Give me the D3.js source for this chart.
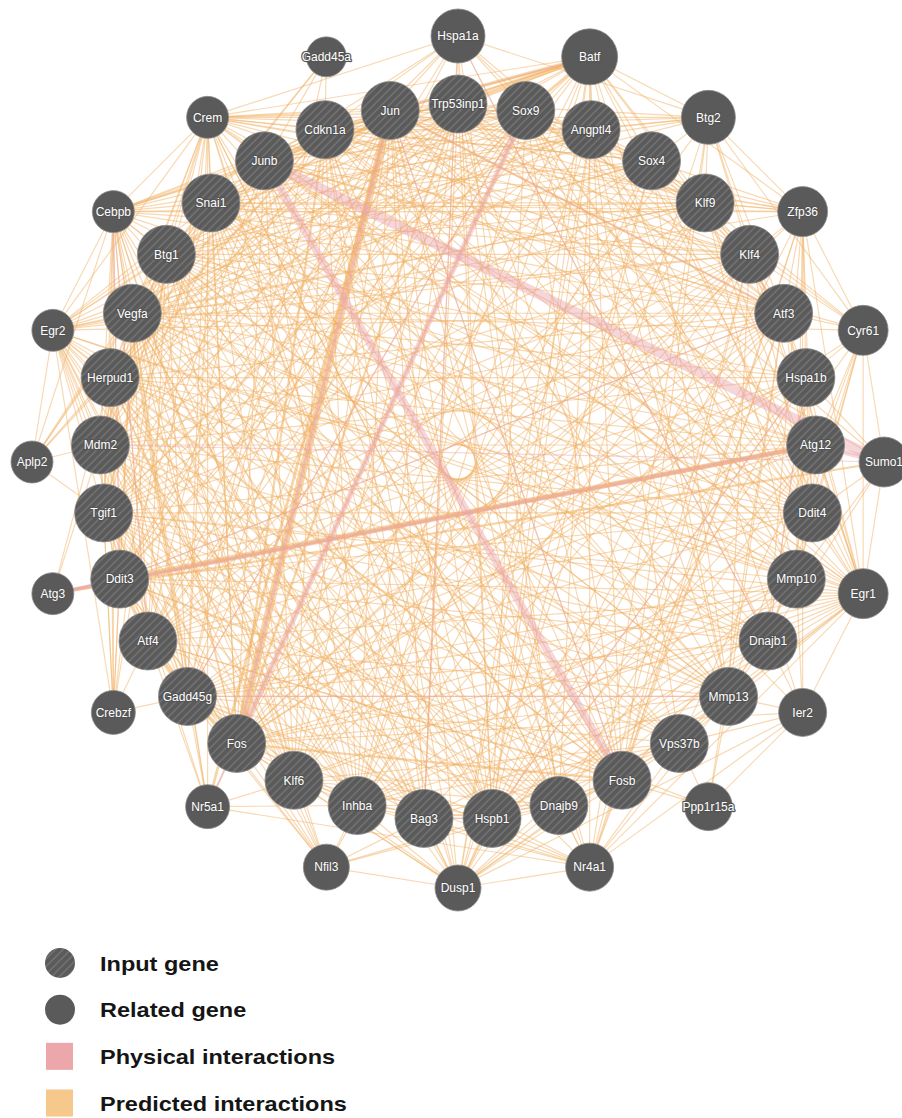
<!DOCTYPE html>
<html>
<head>
<meta charset="utf-8">
<script src="https://cdn.jsdelivr.net/npm/d3@7"></script>
<style>
  html, body { margin: 0; padding: 0; background: #fff; }
  svg { display: block; }
  .node-label { font-family: "Liberation Sans", Arial, sans-serif; font-size: 12px; fill: #fff;
    paint-order: stroke; stroke: #555; stroke-width: 2.4px; stroke-linejoin: round; }
  .legend-label { font-family: "Liberation Sans", Arial, sans-serif; font-size: 21px; font-weight: bold; fill: #151515; }
</style>
</head>
<body>
<svg id="chart" width="902" height="1118"></svg>
<script>
// Query (input) genes, clockwise from the top of the inner ring
const inputGenes = ["Trp53inp1","Sox9","Angptl4","Sox4","Klf9","Klf4","Atf3","Hspa1b","Atg12","Ddit4",
  "Mmp10","Dnajb1","Mmp13","Vps37b","Fosb","Dnajb9","Hspb1","Bag3","Inhba","Klf6","Fos","Gadd45g",
  "Atf4","Ddit3","Tgif1","Mdm2","Herpud1","Vegfa","Btg1","Snai1","Junb","Cdkn1a","Jun"];

// Related genes added by the network, clockwise from the top of the outer ring
const relatedGenes = ["Hspa1a","Batf","Btg2","Zfp36","Cyr61","Sumo1","Egr1","Ier2","Ppp1r15a","Nr4a1",
  "Dusp1","Nfil3","Nr5a1","Crebzf","Atg3","Aplp2","Egr2","Cebpb","Crem","Gadd45a"];
const relatedScores = [0.9,1.0,0.9,0.7,0.7,0.7,0.7,0.6,0.6,0.6,0.5,0.5,0.4,0.4,0.3,0.3,0.3,0.3,0.3,0.2];
const inputScore = 1.1;

// Predicted interactions, as adjacency lists
const predictedLinks = [
  "Jun: Fos Fosb Junb Atf3 Atf4 Ddit3 Klf6 Klf4 Klf9 Egr1 Egr2 Dusp1 Batf Hspa1a Cdkn1a Trp53inp1 Sox9 Mmp10 Mmp13 Vegfa Inhba Nr4a1 Crem Cebpb Gadd45g Snai1 Tgif1 Btg1 Sox4 Bag3 Hspb1 Dnajb9 Ddit4 Herpud1 Zfp36 Atg12 Nr5a1",
  "Fos: Fosb Junb Atf3 Atf4 Egr1 Egr2 Nr4a1 Dusp1 Ier2 Klf4 Klf6 Mmp13 Mmp10 Vegfa Cebpb Crem Btg2 Zfp36 Cyr61 Nr5a1 Batf Inhba Hspa1b Dnajb1 Sox9 Snai1 Gadd45g Ddit3 Tgif1 Klf9 Angptl4 Cdkn1a Trp53inp1",
  "Junb: Fosb Atf3 Klf4 Egr1 Batf Cebpb Crem Ddit3 Atf4 Dusp1 Zfp36 Btg2 Mmp13 Klf6 Inhba Snai1 Sox9 Cdkn1a Vegfa Hspb1 Ddit4 Herpud1 Ier2 Cyr61",
  "Fosb: Atf3 Egr1 Egr2 Nr4a1 Dusp1 Klf4 Klf6 Batf Cebpb Crem Mmp10 Btg2 Zfp36 Snai1 Sox9 Trp53inp1 Cdkn1a Ddit3 Atf4 Vps37b Dnajb9 Hspb1 Tgif1 Herpud1 Btg1 Vegfa",
  "Atf3: Atf4 Ddit3 Egr1 Egr2 Klf4 Klf6 Klf9 Cebpb Crem Dusp1 Nr4a1 Zfp36 Btg2 Ppp1r15a Cyr61 Mdm2 Cdkn1a Gadd45g Sox9 Sox4 Hspa1b Ddit4 Mmp13 Inhba Herpud1 Trp53inp1 Vegfa Btg1 Tgif1 Snai1 Batf",
  "Atf4: Ddit3 Herpud1 Cebpb Crebzf Ppp1r15a Dnajb9 Ddit4 Trp53inp1 Vegfa Sox4 Klf4 Atg12 Mmp13 Egr1 Btg1 Gadd45g Hspa1b Sox9 Crem Klf9 Nfil3",
  "Ddit3: Herpud1 Cebpb Crebzf Ppp1r15a Dnajb9 Trp53inp1 Atg3 Atg12 Ddit4 Gadd45g Tgif1 Mdm2 Vegfa Hspa1b Klf4 Egr1 Sox9 Dnajb1 Nfil3 Btg1",
  "Egr1: Egr2 Klf4 Klf6 Klf9 Nr4a1 Dusp1 Ier2 Zfp36 Btg2 Cyr61 Vegfa Mmp13 Mmp10 Snai1 Sox9 Tgif1 Inhba Cdkn1a Ddit4 Hspb1 Gadd45g Crem Cebpb Batf Sumo1 Vps37b",
  "Klf4: Klf6 Klf9 Egr2 Sox9 Sox4 Snai1 Cdkn1a Zfp36 Btg2 Cyr61 Ddit4 Mdm2 Vegfa Tgif1 Btg1 Inhba Mmp13 Hspa1b Cebpb Crem Gadd45g Dusp1 Nr4a1",
  "Klf6: Klf9 Egr2 Cebpb Snai1 Sox4 Mmp10 Inhba Tgif1 Nfil3 Nr5a1 Dusp1 Bag3 Hspb1 Dnajb9 Vegfa Cdkn1a Btg1 Herpud1",
  "Klf9: Egr2 Sox9 Sox4 Zfp36 Btg2 Ddit4 Tgif1 Nfil3 Cebpb Crem Snai1 Vegfa Mmp10 Angptl4 Trp53inp1 Btg1 Herpud1",
  "Sox9: Sox4 Snai1 Batf Trp53inp1 Angptl4 Mmp13 Mmp10 Vegfa Tgif1 Cdkn1a Hspb1 Inhba Cebpb Crem Btg1 Mdm2 Dnajb1 Gadd45g Herpud1 Ddit4",
  "Trp53inp1: Batf Hspa1a Angptl4 Cdkn1a Mdm2 Gadd45g Ddit4 Btg1 Sox4 Atg12 Vps37b Dnajb9 Herpud1 Tgif1 Btg2 Crem Cebpb Bag3 Hspb1 Sumo1 Inhba Klf6",
  "Batf: Angptl4 Sox4 Cdkn1a Btg2 Crem Cebpb Egr2 Snai1 Klf6 Atf4 Ddit3 Vegfa Inhba Hspb1 Tgif1 Mmp13 Nr4a1 Dusp1 Ier2 Zfp36 Klf9",
  "Angptl4: Sox4 Vegfa Cyr61 Mmp10 Mmp13 Klf9 Klf4 Cdkn1a Btg1 Btg2 Snai1 Inhba Ddit4 Herpud1 Tgif1 Crem Egr2 Hspb1 Dusp1 Dnajb9 Vps37b",
  "Sox4: Btg2 Zfp36 Snai1 Tgif1 Btg1 Vegfa Crem Mmp13 Inhba Cdkn1a Klf6 Ddit4 Hspb1 Mdm2 Egr2 Cyr61 Dusp1",
  "Hspa1a: Hspa1b Hspb1 Dnajb1 Bag3 Dnajb9 Herpud1 Atf3 Ddit3 Atf4 Sox9 Cdkn1a Junb Crem Btg2",
  "Hspa1b: Hspb1 Dnajb1 Bag3 Dnajb9 Herpud1 Mdm2 Cyr61 Zfp36 Egr1 Mmp10 Atg12 Gadd45g Btg1 Vegfa Ddit4 Sumo1",
  "Atg12: Sumo1 Ddit4 Mdm2 Vps37b Herpud1 Dnajb9 Hspb1 Tgif1 Crem Cebpb Btg1 Vegfa Cyr61 Egr1 Gadd45g",
  "Ddit4: Vegfa Mdm2 Tgif1 Btg1 Herpud1 Gadd45g Mmp10 Cyr61 Egr1 Sumo1 Inhba Dnajb1 Snai1 Cdkn1a Zfp36 Crem",
  "Mmp10: Mmp13 Cyr61 Vegfa Inhba Snai1 Egr2 Herpud1 Tgif1 Gadd45g Cdkn1a Btg1 Hspb1 Dusp1 Zfp36 Ier2 Sumo1",
  "Dnajb1: Hspb1 Bag3 Dnajb9 Herpud1 Mmp13 Vps37b Cyr61 Zfp36 Btg1 Mdm2 Tgif1 Vegfa Gadd45g Cdkn1a Snai1 Sumo1 Ier2 Egr1",
  "Mmp13: Vps37b Cyr61 Vegfa Inhba Snai1 Egr2 Tgif1 Gadd45g Btg1 Herpud1 Mdm2 Cebpb Crem Ier2 Ppp1r15a Dusp1 Nr4a1",
  "Vps37b: Dnajb9 Hspb1 Bag3 Inhba Klf6 Gadd45g Tgif1 Mdm2 Vegfa Btg1 Snai1 Ppp1r15a Nr4a1 Ier2 Egr2",
  "Dnajb9: Hspb1 Bag3 Herpud1 Inhba Gadd45g Mdm2 Vegfa Tgif1 Btg1 Nr4a1 Dusp1 Nfil3 Snai1 Cdkn1a Crem",
  "Hspb1: Bag3 Inhba Herpud1 Mdm2 Vegfa Tgif1 Btg1 Snai1 Cdkn1a Gadd45g Dusp1 Nr4a1 Nfil3 Crem Cebpb Egr2",
  "Bag3: Inhba Herpud1 Mdm2 Vegfa Btg1 Gadd45g Cdkn1a Tgif1 Dusp1 Nfil3 Nr4a1 Snai1 Crem",
  "Inhba: Vegfa Snai1 Tgif1 Gadd45g Btg1 Cdkn1a Egr2 Nfil3 Dusp1 Cebpb Mdm2 Herpud1 Nr5a1 Nr4a1",
  "Gadd45g: Gadd45a Cdkn1a Mdm2 Btg1 Tgif1 Herpud1 Vegfa Snai1 Cebpb Crem Nfil3 Nr5a1 Crebzf Dusp1 Nr4a1 Egr2",
  "Tgif1: Snai1 Vegfa Btg1 Cdkn1a Mdm2 Herpud1 Cebpb Crem Egr2 Aplp2 Crebzf Nr5a1 Nfil3",
  "Mdm2: Cdkn1a Herpud1 Vegfa Btg1 Snai1 Aplp2 Egr2 Cebpb Crem Gadd45a Crebzf Atg3",
  "Herpud1: Vegfa Btg1 Snai1 Cdkn1a Cebpb Crem Aplp2 Egr2 Crebzf Atg3 Nfil3",
  "Vegfa: Btg1 Snai1 Cdkn1a Cebpb Egr2 Crem Aplp2 Cyr61 Nr5a1 Crebzf Dusp1",
  "Btg1: Snai1 Cdkn1a Btg2 Cebpb Egr2 Crem Aplp2 Gadd45a Crebzf",
  "Snai1: Cdkn1a Cebpb Egr2 Crem Zfp36 Gadd45a Aplp2",
  "Cdkn1a: Gadd45a Crem Cebpb Egr2 Zfp36 Btg2 Sumo1 Dusp1 Nr4a1 Aplp2",
  "Egr2: Cebpb Crem Aplp2 Crebzf Nr5a1 Nfil3 Dusp1 Zfp36 Nr4a1",
  "Cebpb: Crem Aplp2 Crebzf Nfil3 Nr5a1 Dusp1 Zfp36 Btg2",
  "Crem: Nr4a1 Dusp1 Zfp36 Crebzf Nr5a1 Btg2 Batf",
  "Dusp1: Nr4a1 Zfp36 Btg2 Nfil3 Ier2 Cyr61",
  "Nr4a1: Ier2 Zfp36 Btg2 Nr5a1",
  "Zfp36: Btg2 Cyr61 Ier2",
  "Btg2: Cyr61",
  "Ppp1r15a: Ier2",
  "Cyr61: Sumo1"
];

// Predicted interactions with heavier network weight
const predictedWeights = [
  "Jun-Fos 7", "Trp53inp1-Batf 3.5", "Jun-Batf 3", "Sox9-Batf 2.5", "Junb-Batf 2",
  "Ddit3-Atg12 4.5", "Atf4-Ddit3 3", "Atf4-Gadd45g 3", "Gadd45g-Fos 3", "Jun-Nr5a1 2.5",
  "Cdkn1a-Fos 2", "Trp53inp1-Fos 2", "Jun-Junb 2", "Jun-Atf3 2", "Fos-Fosb 2", "Sox9-Fos 2",
  "Atg3-Atg12 2.5", "Atg3-Sumo1 2"
];

// Physical interactions with their weights
const physicalLinks = [
  "Junb-Sumo1 9", "Junb-Fosb 7", "Sox9-Fos 5", "Atg3-Atg12 4", "Atg12-Sumo1 5", "Jun-Fos 3",
  "Jun-Fosb 1", "Mdm2-Sumo1 1", "Bag3-Hspa1a 1", "Bag3-Hspb1 1", "Dnajb1-Hspa1a 1",
  "Dnajb1-Hspa1b 1", "Hspb1-Hspa1b 1", "Atf4-Cebpb 1", "Ddit3-Cebpb 1", "Jun-Atf3 1",
  "Jun-Batf 1", "Gadd45g-Mmp13 1", "Atf3-Ddit3 1", "Fos-Nr5a1 2", "Atg3-Ddit3 2", "Sox9-Gadd45g 1"
];

const svg = d3.select("#chart");
const cx = 458, cy = 462;
const innerR = 358, outerR = 426;

// Angular positions on the two rings
const innerAngle = d3.scaleLinear().domain([0, inputGenes.length]).range([0, 2 * Math.PI]);
const outerAngle = d3.scaleLinear().domain([0, relatedGenes.length]).range([0, 2 * Math.PI]);
const radiusScale = d3.scaleLinear().domain([0.2, 1.0]).range([20, 28]);

const nodes = [];
inputGenes.forEach((g, i) => {
  const a = innerAngle(i);
  nodes.push({ id: g, input: true, score: inputScore,
    x: cx + innerR * Math.sin(a), y: cy - innerR * Math.cos(a) });
});
relatedGenes.forEach((g, i) => {
  const a = outerAngle(i);
  nodes.push({ id: g, input: false, score: relatedScores[i],
    x: cx + outerR * Math.sin(a), y: cy - outerR * Math.cos(a) });
});
const byId = new Map(nodes.map(n => [n.id, n]));

// Build the edge lists
const key = (a, b) => a < b ? a + "|" + b : b + "|" + a;
const predicted = new Map();
predictedLinks.forEach(line => {
  const [src, rest] = line.split(":");
  rest.trim().split(/\s+/).forEach(t => {
    const k = key(src.trim(), t);
    if (!predicted.has(k)) predicted.set(k, { source: src.trim(), target: t, weight: 1 });
  });
});
predictedWeights.forEach(s => {
  const [pair, w] = s.split(" ");
  const [a, b] = pair.split("-");
  predicted.set(key(a, b), { source: a, target: b, weight: +w });
});
const physical = physicalLinks.map(s => {
  const [pair, w] = s.split(" ");
  const [a, b] = pair.split("-");
  return { source: a, target: b, weight: +w };
});

const widthScale = d3.scaleLinear().domain([1, 10]).range([1.15, 11]);

const defs = svg.append("defs");
const pat = defs.append("pattern")
  .attr("id", "hatch").attr("patternUnits", "userSpaceOnUse")
  .attr("width", 5.5).attr("height", 5.5).attr("patternTransform", "rotate(45)");
pat.append("rect").attr("width", 5.5).attr("height", 5.5).attr("fill", "#5a5a5a");
pat.append("line").attr("x1", 1).attr("y1", 0).attr("x2", 1).attr("y2", 5.5)
  .attr("stroke", "#7d7d7d").attr("stroke-width", 1.1);

const edgeG = svg.append("g");
edgeG.selectAll("line.pred")
  .data(Array.from(predicted.values()).filter(d => byId.has(d.source) && byId.has(d.target)))
  .join("line").attr("class", "pred")
  .attr("x1", d => byId.get(d.source).x).attr("y1", d => byId.get(d.source).y)
  .attr("x2", d => byId.get(d.target).x).attr("y2", d => byId.get(d.target).y)
  .attr("stroke", "#f2b263").attr("stroke-opacity", d => d.weight > 1 ? 0.55 : 0.5)
  .attr("stroke-width", d => widthScale(d.weight));

edgeG.selectAll("line.phys")
  .data(physical)
  .join("line").attr("class", "phys")
  .attr("x1", d => byId.get(d.source).x).attr("y1", d => byId.get(d.source).y)
  .attr("x2", d => byId.get(d.target).x).attr("y2", d => byId.get(d.target).y)
  .attr("stroke", "#e9a3b0").attr("stroke-opacity", 0.45)
  .attr("stroke-width", d => widthScale(d.weight));

const nodeG = svg.append("g").selectAll("g").data(nodes).join("g")
  .attr("transform", d => `translate(${d.x},${d.y})`);
nodeG.append("circle")
  .attr("r", d => d.input ? 29 : radiusScale(d.score))
  .attr("fill", d => d.input ? "url(#hatch)" : "#5a5a5a")
  .attr("stroke", "#8a8a8a").attr("stroke-width", 0.8);
nodeG.append("text").attr("class", "node-label")
  .attr("text-anchor", "middle").attr("dy", "0.36em")
  .text(d => d.id);

// Legend
const legendItems = ["Input gene", "Related gene", "Physical interactions", "Predicted interactions"];
const legend = svg.append("g");
const rowY = d3.scalePoint().domain(legendItems).range([963, 1103]);
legendItems.forEach((label, i) => {
  const y = rowY(label);
  if (i === 0) legend.append("circle").attr("cx", 60).attr("cy", y).attr("r", 15).attr("fill", "url(#hatch)");
  else if (i === 1) legend.append("circle").attr("cx", 60).attr("cy", y).attr("r", 15).attr("fill", "#5a5a5a");
  else legend.append("rect").attr("x", 46).attr("y", y - 13.5).attr("width", 27).attr("height", 27)
    .attr("fill", i === 2 ? "#eca7ab" : "#f6c88c");
  legend.append("text").attr("class", "legend-label")
    .attr("transform", `translate(100,${y}) scale(1.12,1)`)
    .attr("dy", "0.36em").text(label);
});
</script>
</body>
</html>
